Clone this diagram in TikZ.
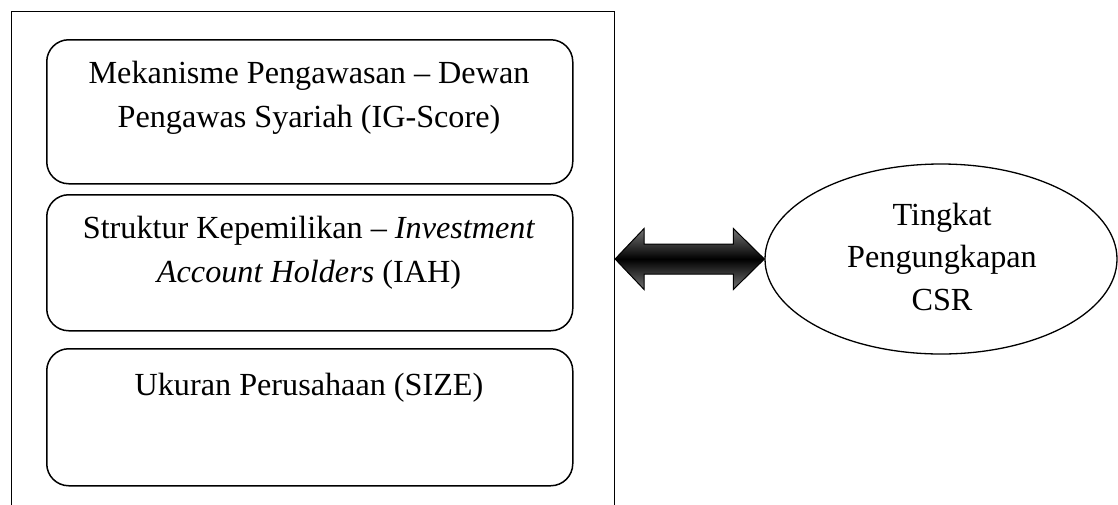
\documentclass[tikz,border=0pt]{standalone}
\usepackage{fontspec}
\setmainfont{Liberation Serif}
\usetikzlibrary{shapes.geometric,calc}
\begin{document}
\begin{tikzpicture}[x=1pt,y=-1pt,
  outerbox/.style={draw, line width=1.1pt, inner sep=0pt, anchor=north west},
  varbox/.style={draw, line width=1.5pt, rounded corners=22pt, inner sep=0pt, anchor=north west, minimum width=526pt},
  vartext/.style={align=center, anchor=base, inner sep=0pt, font=\fontsize{32.2}{44}\selectfont},
  depnode/.style={draw, ellipse, line width=1.3pt, inner sep=0pt, minimum width=352pt, minimum height=190pt},
  arrowshade/.style={draw=black, line width=1pt, top color=black!55, bottom color=black!55, middle color=black},
  arrowshadow/.style={fill=black!40, draw=none}
]
\useasboundingbox (0,0) rectangle (1118,504);
\clip (0,0) rectangle (1118,504);

\node[outerbox, minimum width=603pt, minimum height=530pt] (group) at (11,11) {};

\node[varbox, minimum height=144pt] (ig) at (46,39) {};
\node[varbox, minimum height=136pt] (iah) at (46,194) {};
\node[varbox, minimum height=137pt] (size) at (46,348) {};

% base anchor of a multi-line node = baseline of its last line
\node[vartext] (igt) at (309,127) {Mekanisme Pengawasan -- Dewan\\Pengawas Syariah (IG-Score)};
\node[vartext] (iaht) at (309,282) {Struktur Kepemilikan -- \textit{Investment}\\\textit{Account Holders} (IAH)};
\node[vartext] (sizet) at (309,395) {Ukuran Perusahaan (SIZE)};

\node[depnode] (csr) at (941,259) {};
\node[vartext, font=\fontsize{32.2}{42.5}\selectfont] (csrt) at (942,310) {Tingkat\\Pengungkapan\\CSR};

\coordinate (L) at (group.east |- csr.west);
\coordinate (R) at (csr.west);

\begin{scope}[shift={(3,3)}]
\fill[arrowshadow] (L) -- ($(L)+(29,-30.5)$) -- ($(L)+(29,-15)$) -- ($(R)+(-31,-15)$) -- ($(R)+(-31,-30.5)$) -- (R) -- ($(R)+(-31,30.5)$) -- ($(R)+(-31,15)$) -- ($(L)+(29,15)$) -- ($(L)+(29,30.5)$) -- cycle;
\end{scope}
\path[arrowshade] (L) -- ($(L)+(29,-30.5)$) -- ($(L)+(29,-15)$) -- ($(R)+(-31,-15)$) -- ($(R)+(-31,-30.5)$) -- (R) -- ($(R)+(-31,30.5)$) -- ($(R)+(-31,15)$) -- ($(L)+(29,15)$) -- ($(L)+(29,30.5)$) -- cycle;
\end{tikzpicture}
\end{document}
